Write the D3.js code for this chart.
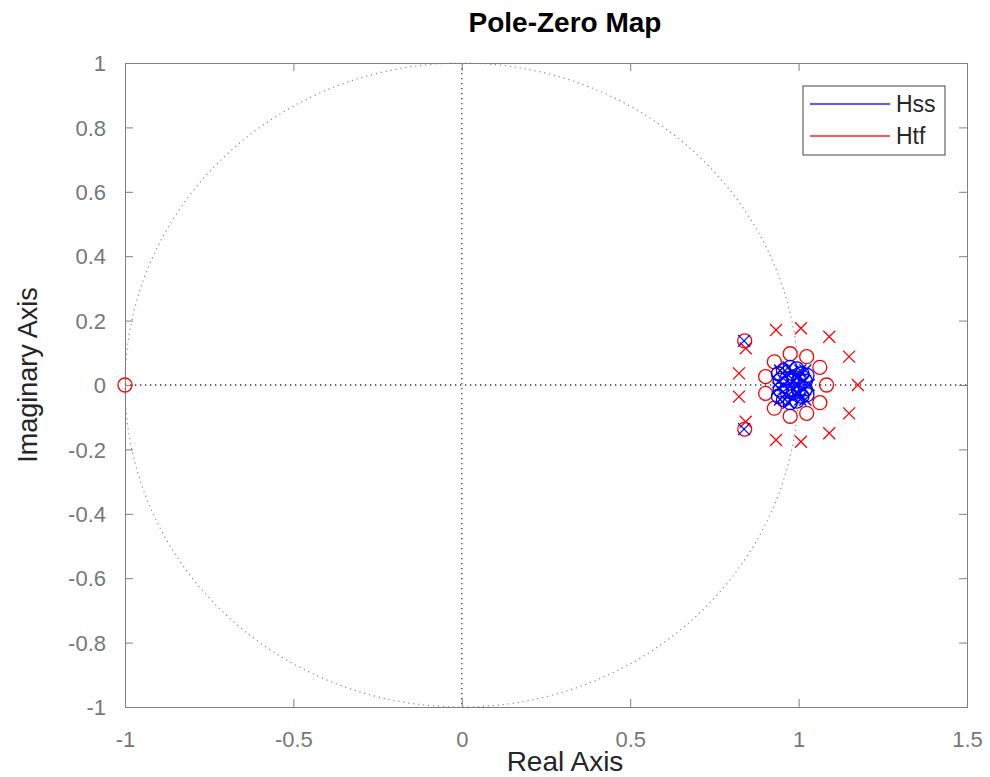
<!DOCTYPE html>
<html>
<head>
<meta charset="utf-8">
<script src="https://cdn.jsdelivr.net/npm/d3@7/dist/d3.min.js"></script>
<style>
html,body{margin:0;padding:0;background:#fff;}
svg{display:block;font-family:"Liberation Sans",Arial,Helvetica,sans-serif;}
</style>
</head>
<body>
<svg id="chart" width="990" height="777"></svg>
<script>
// ---- data ----
const title = "Pole-Zero Map";
const xLabel = "Real Axis";
const yLabel = "Imaginary Axis";
const xTicks = [-1, -0.5, 0, 0.5, 1, 1.5];
const yTicks = [-1, -0.8, -0.6, -0.4, -0.2, 0, 0.2, 0.4, 0.6, 0.8, 1];
const seriesNames = ["Hss", "Htf"];
const seriesColors = ["#0000ff", "#ff0000"];

// Htf zeros (red circles): [real, imag]
const htfZeros = [
  [-1, 0],
  [0.840, 0.137], [0.840, -0.137],
  [1.083, 0],
  [1.063, 0.055], [1.063, -0.055],
  [1.024, 0.088], [1.024, -0.088],
  [0.975, 0.097], [0.975, -0.097],
  [0.928, 0.072], [0.928, -0.072],
  [0.902, 0.026], [0.902, -0.026]
];
// Htf poles (red crosses)
const htfPoles = [
  [1.176, 0],
  [1.150, 0.088], [1.150, -0.088],
  [1.091, 0.150], [1.091, -0.150],
  [1.007, 0.176], [1.007, -0.176],
  [0.933, 0.171], [0.933, -0.171],
  [0.843, 0.114], [0.843, -0.114],
  [0.823, 0.036], [0.823, -0.036]
];
// Hss zeros (blue circles)
const hssZeros = [
  [0.955, 0.045], [0.955, -0.045],
  [0.975, 0.055], [0.975, -0.055],
  [0.995, 0.050], [0.995, -0.050],
  [1.010, 0.035], [1.010, -0.035],
  [1.020, 0.012], [1.020, -0.012],
  [0.945, 0.015], [0.945, -0.015],
  [0.985, 0.025], [0.985, -0.025],
  [0.940, 0.035], [0.940, -0.035],
  [0.965, 0.020], [0.965, -0.020],
  [1.000, 0.015], [1.000, -0.015],
  [1.025, 0.030], [1.025, -0.030]
];
// Hss poles (blue crosses)
const hssPoles = [
  [0.838, 0.137], [0.838, -0.137],
  [0.960, 0.030], [0.960, -0.030],
  [0.980, 0.040], [0.980, -0.040],
  [1.000, 0.030], [1.000, -0.030],
  [1.012, 0.010], [1.012, -0.010],
  [0.955, 0.000], [0.995, 0.000],
  [0.985, 0.015], [0.985, -0.015],
  [0.945, 0.045], [0.945, -0.045],
  [0.970, 0.055], [0.970, -0.055],
  [1.020, 0.045], [1.020, -0.045],
  [1.030, 0.000], [0.975, 0.000],
  [0.940, 0.010], [0.940, -0.010],
  [1.005, 0.045], [1.005, -0.045]
];

// ---- drawing ----
const svg = d3.select("#chart");
const L = 125, R = 967, T = 63, B = 707;
const x = d3.scaleLinear().domain([-1, 1.5]).range([L, R]);
const y = d3.scaleLinear().domain([-1, 1]).range([B, T]);
const axisGray = "#808080";
const tickLen = 8;

svg.append("rect").attr("x", L).attr("y", T).attr("width", R - L).attr("height", B - T).attr("fill", "#fff");

// unit circle (dotted)
svg.append("ellipse")
  .attr("cx", x(0)).attr("cy", y(0))
  .attr("rx", x(1) - x(0)).attr("ry", y(0) - y(1))
  .attr("fill", "none").attr("stroke", "#8a8a8a").attr("stroke-width", 1.2)
  .attr("stroke-dasharray", "1.2,3.8");

// dotted axes through origin
svg.append("line").attr("x1", x(0)).attr("x2", x(0)).attr("y1", T).attr("y2", B)
  .attr("stroke", "#333").attr("stroke-width", 1.3).attr("stroke-dasharray", "1.3,3.7");
svg.append("line").attr("x1", L).attr("x2", R).attr("y1", y(0)).attr("y2", y(0))
  .attr("stroke", "#333").attr("stroke-width", 1.3).attr("stroke-dasharray", "1.3,3.7");

// axes (ticks inward)
const fmt = d => d3.format("")(d).replace("−", "-");
const axB = svg.append("g").attr("transform", `translate(0,${B})`)
  .call(d3.axisBottom(x).tickValues(xTicks).tickSize(-tickLen).tickPadding(24).tickFormat(fmt));
const axT = svg.append("g").attr("transform", `translate(0,${T})`)
  .call(d3.axisTop(x).tickValues(xTicks).tickSize(-tickLen).tickFormat(""));
const axL = svg.append("g").attr("transform", `translate(${L},0)`)
  .call(d3.axisLeft(y).tickValues(yTicks).tickSize(-tickLen).tickPadding(19).tickFormat(fmt));
const axR = svg.append("g").attr("transform", `translate(${R},0)`)
  .call(d3.axisRight(y).tickValues(yTicks).tickSize(-tickLen).tickFormat(""));
[axB, axT, axL, axR].forEach(g => {
  g.select(".domain").attr("stroke", axisGray).attr("stroke-width", 1);
  g.selectAll(".tick line").attr("stroke", axisGray).attr("stroke-width", 1);
  g.selectAll(".tick text").attr("fill", "#777").style("font-size", "22px")
    .style("font-family", "'Liberation Sans',Arial,sans-serif");
});
axL.selectAll(".tick text").attr("dy", "0.35em");

// markers
const plot = svg.append("g");
function circles(data, color) {
  plot.selectAll(null).data(data).enter().append("circle")
    .attr("cx", d => x(d[0])).attr("cy", d => y(d[1])).attr("r", 7)
    .attr("fill", "none").attr("stroke", color).attr("stroke-width", 1.3);
}
function crosses(data, color) {
  const s = 6;
  plot.selectAll(null).data(data).enter().append("path")
    .attr("d", d => {
      const cx = x(d[0]), cy = y(d[1]);
      return `M${cx - s},${cy - s}L${cx + s},${cy + s}M${cx - s},${cy + s}L${cx + s},${cy - s}`;
    })
    .attr("fill", "none").attr("stroke", color).attr("stroke-width", 1.3);
}
circles(htfZeros, seriesColors[1]);
crosses(htfPoles, seriesColors[1]);
circles(hssZeros, seriesColors[0]);
crosses(hssPoles, seriesColors[0]);

// title and labels
svg.append("text").attr("x", 565).attr("y", 32).attr("text-anchor", "middle")
  .style("font-size", "28px").style("font-weight", "bold").attr("fill", "#000").text(title);
svg.append("text").attr("x", 565).attr("y", 771).attr("text-anchor", "middle")
  .style("font-size", "28px").attr("fill", "#262626").text(xLabel);
svg.append("text").attr("transform", `translate(37,375) rotate(-90)`).attr("text-anchor", "middle")
  .style("font-size", "27px").attr("fill", "#262626").text(yLabel);

// legend
const lg = svg.append("g").attr("transform", "translate(803,86)");
lg.append("rect").attr("x", 0).attr("y", 0).attr("width", 142).attr("height", 69)
  .attr("fill", "#fff").attr("stroke", "#444").attr("stroke-width", 1);
seriesNames.forEach((n, i) => {
  const yy = 18 + i * 32;
  lg.append("line").attr("x1", 7).attr("x2", 87).attr("y1", yy).attr("y2", yy)
    .attr("stroke", seriesColors[i]).attr("stroke-width", 1.8).attr("stroke-opacity", 0.65);
  lg.append("text").attr("x", 93).attr("y", yy).attr("dy", "0.35em")
    .style("font-size", "23px").attr("fill", "#262626").text(n);
});
</script>
</body>
</html>
